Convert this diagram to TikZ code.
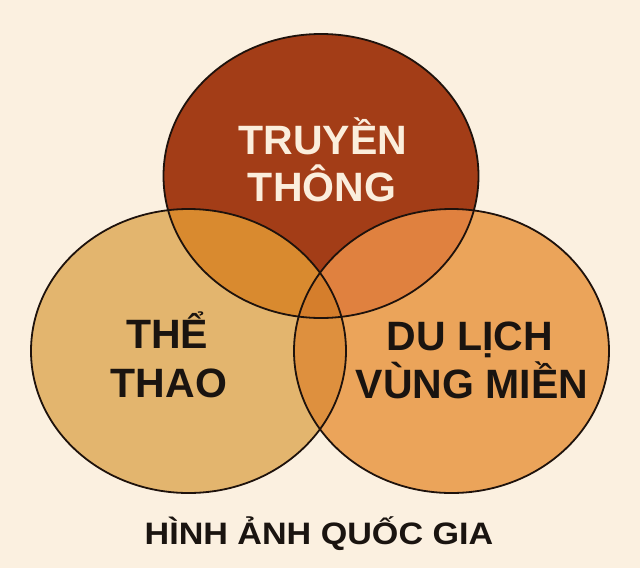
\documentclass[tikz,border=0pt]{standalone}
\usepackage{fontspec}
\setmainfont{Liberation Sans}
\definecolor{bg}{HTML}{FBF0E0}
\definecolor{ctop}{HTML}{A33D17}
\definecolor{cleft}{HTML}{E3B56E}
\definecolor{cright}{HTML}{EBA45A}
\definecolor{ctl}{HTML}{D98A2F}
\definecolor{ctr}{HTML}{E0813F}
\definecolor{clr}{HTML}{DE903E}
\definecolor{cmid}{HTML}{D57E2C}
\definecolor{lighttext}{HTML}{FBEEDC}
\definecolor{darktext}{HTML}{1A1410}
\definecolor{outline}{HTML}{1E120C}
\begin{document}
\begin{tikzpicture}[x=1pt,y=-1pt,
  ring/.style={draw=outline,line width=1.8pt},
  bigtext/.style={font=\fontsize{41}{45}\selectfont\bfseries,anchor=base,inner sep=0pt},
  titletext/.style={font=\fontsize{31}{35}\selectfont\bfseries,anchor=base,inner sep=0pt,text=darktext,xscale=1.1}]
\useasboundingbox (0,0) rectangle (640,568);
\fill[bg] (0,0) rectangle (640,568);
\coordinate (T) at (321,176);
\coordinate (L) at (188.5,351);
\coordinate (R) at (451.5,351);
\def\rx{157.5pt}\def\ry{142pt}
% base fills
\fill[cleft] (L) ellipse [x radius=\rx, y radius=\ry];
\fill[cright] (R) ellipse [x radius=\rx, y radius=\ry];
\fill[ctop] (T) ellipse [x radius=\rx, y radius=\ry];
% pairwise overlaps
\begin{scope}
  \clip (T) ellipse [x radius=\rx, y radius=\ry];
  \fill[ctl] (L) ellipse [x radius=\rx, y radius=\ry];
  \fill[ctr] (R) ellipse [x radius=\rx, y radius=\ry];
\end{scope}
\begin{scope}
  \clip (L) ellipse [x radius=\rx, y radius=\ry];
  \fill[clr] (R) ellipse [x radius=\rx, y radius=\ry];
\end{scope}
\begin{scope}
  \clip (L) ellipse [x radius=\rx, y radius=\ry];
  \clip (R) ellipse [x radius=\rx, y radius=\ry];
  \fill[cmid] (T) ellipse [x radius=\rx, y radius=\ry];
\end{scope}
% outlines
\draw[ring] (L) ellipse [x radius=\rx, y radius=\ry];
\draw[ring] (R) ellipse [x radius=\rx, y radius=\ry];
\draw[ring] (T) ellipse [x radius=\rx, y radius=\ry];
% labels
\node[bigtext,text=lighttext] (t1) at (323,154) {TRUYỀN};
\node[bigtext,text=lighttext] (t2) at (322,201) {THÔNG};
\node[bigtext,text=darktext] (l1) at (167,348) {THỂ};
\node[bigtext,text=darktext] (l2) at (169,397) {THAO};
\node[bigtext,text=darktext] (r1) at (470,350) {DU LỊCH};
\node[bigtext,text=darktext] (r2) at (472,398) {VÙNG MIỀN};
\node[titletext] (title) at (319,544) {HÌNH ẢNH QUỐC GIA};
\end{tikzpicture}
\end{document}
